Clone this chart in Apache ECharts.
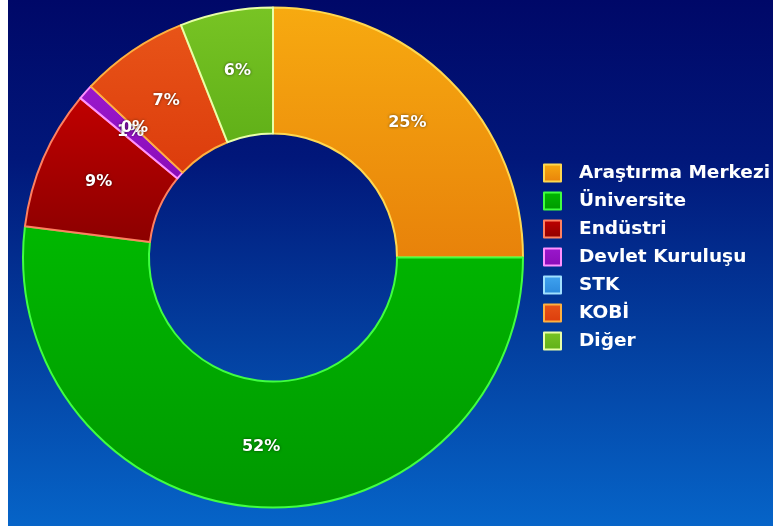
<!DOCTYPE html>
<html>
<head>
<meta charset="utf-8">
<script src="https://cdn.jsdelivr.net/npm/echarts@6/dist/echarts.min.js"></script>
<style>
html,body{margin:0;padding:0;background:#ffffff;}
#chart{position:absolute;left:8px;top:0;width:765px;height:526px;
background:linear-gradient(to bottom,#000868 0%,#01177a 30%,#033f9f 65%,#0664c8 100%);}
</style>
</head>
<body>
<div id="chart"></div>
<script>
// Data (shares in %)
const categories = ['Araştırma Merkezi', 'Üniversite', 'Endüstri', 'Devlet Kuruluşu', 'STK', 'KOBİ', 'Diğer'];
const percentValues = [25, 52, 9, 1, 0, 7, 6];

// Styles
const fillTop =    ['#f7aa10', '#00b800', '#c00000', '#9a18cc', '#40a4f0', '#e85418', '#78c424'];
const fillBottom = ['#e8820a', '#009800', '#8c0000', '#8a0cb8', '#2a88dc', '#dc3c0c', '#60b018'];
const borders =    ['#ffd850', '#40ff40', '#ff8060', '#ff90ff', '#a0e0ff', '#ffb040', '#e8ffa8'];

const chart = echarts.init(document.getElementById('chart'));
const data = categories.map((name, i) => ({
  name: name,
  value: percentValues[i],
  itemStyle: {
    color: new echarts.graphic.LinearGradient(0, 0, 0, 1, [
      {offset: 0, color: fillTop[i]},
      {offset: 1, color: fillBottom[i]}
    ]),
    borderColor: borders[i],
    borderWidth: percentValues[i] < 0.5 ? 0 : 2
  },
  label: { show: true }
}));

const legendData = categories.map((name, i) => ({
  name: name,
  itemStyle: { borderColor: borders[i], borderWidth: 2 }
}));

chart.setOption({
  backgroundColor: 'transparent',
  animation: false,
  legend: {
    orient: 'vertical',
    left: 535,
    top: 163,
    padding: 0,
    icon: 'rect',
    itemWidth: 17,
    itemHeight: 17,
    itemGap: 8,
    data: legendData,
    textStyle: {
      color: '#ffffff',
      fontFamily: 'DejaVu Sans',
      fontWeight: 'bold',
      fontSize: 18.5,
      lineHeight: 20,
      padding: [0, 0, 0, 13]
    }
  },
  series: [{
    type: 'pie',
    center: [265, 257.5],
    radius: [124, 250],
    startAngle: 90,
    clockwise: true,
    avoidLabelOverlap: false,
    minShowLabelAngle: 0,
    labelLayout: { hideOverlap: false },
    data: data,
    label: {
      show: true,
      position: 'inside',
      formatter: p => Math.round(p.value) + '%',
      color: '#ffffff',
      fontFamily: 'DejaVu Sans',
      fontWeight: 'bold',
      fontSize: 16,
      textBorderWidth: 0,
      textShadowColor: 'rgba(0,0,0,0.6)',
      textShadowBlur: 3
    },
    labelLine: {show: false},
    emphasis: {disabled: true}
  }]
});
</script>
</body>
</html>
